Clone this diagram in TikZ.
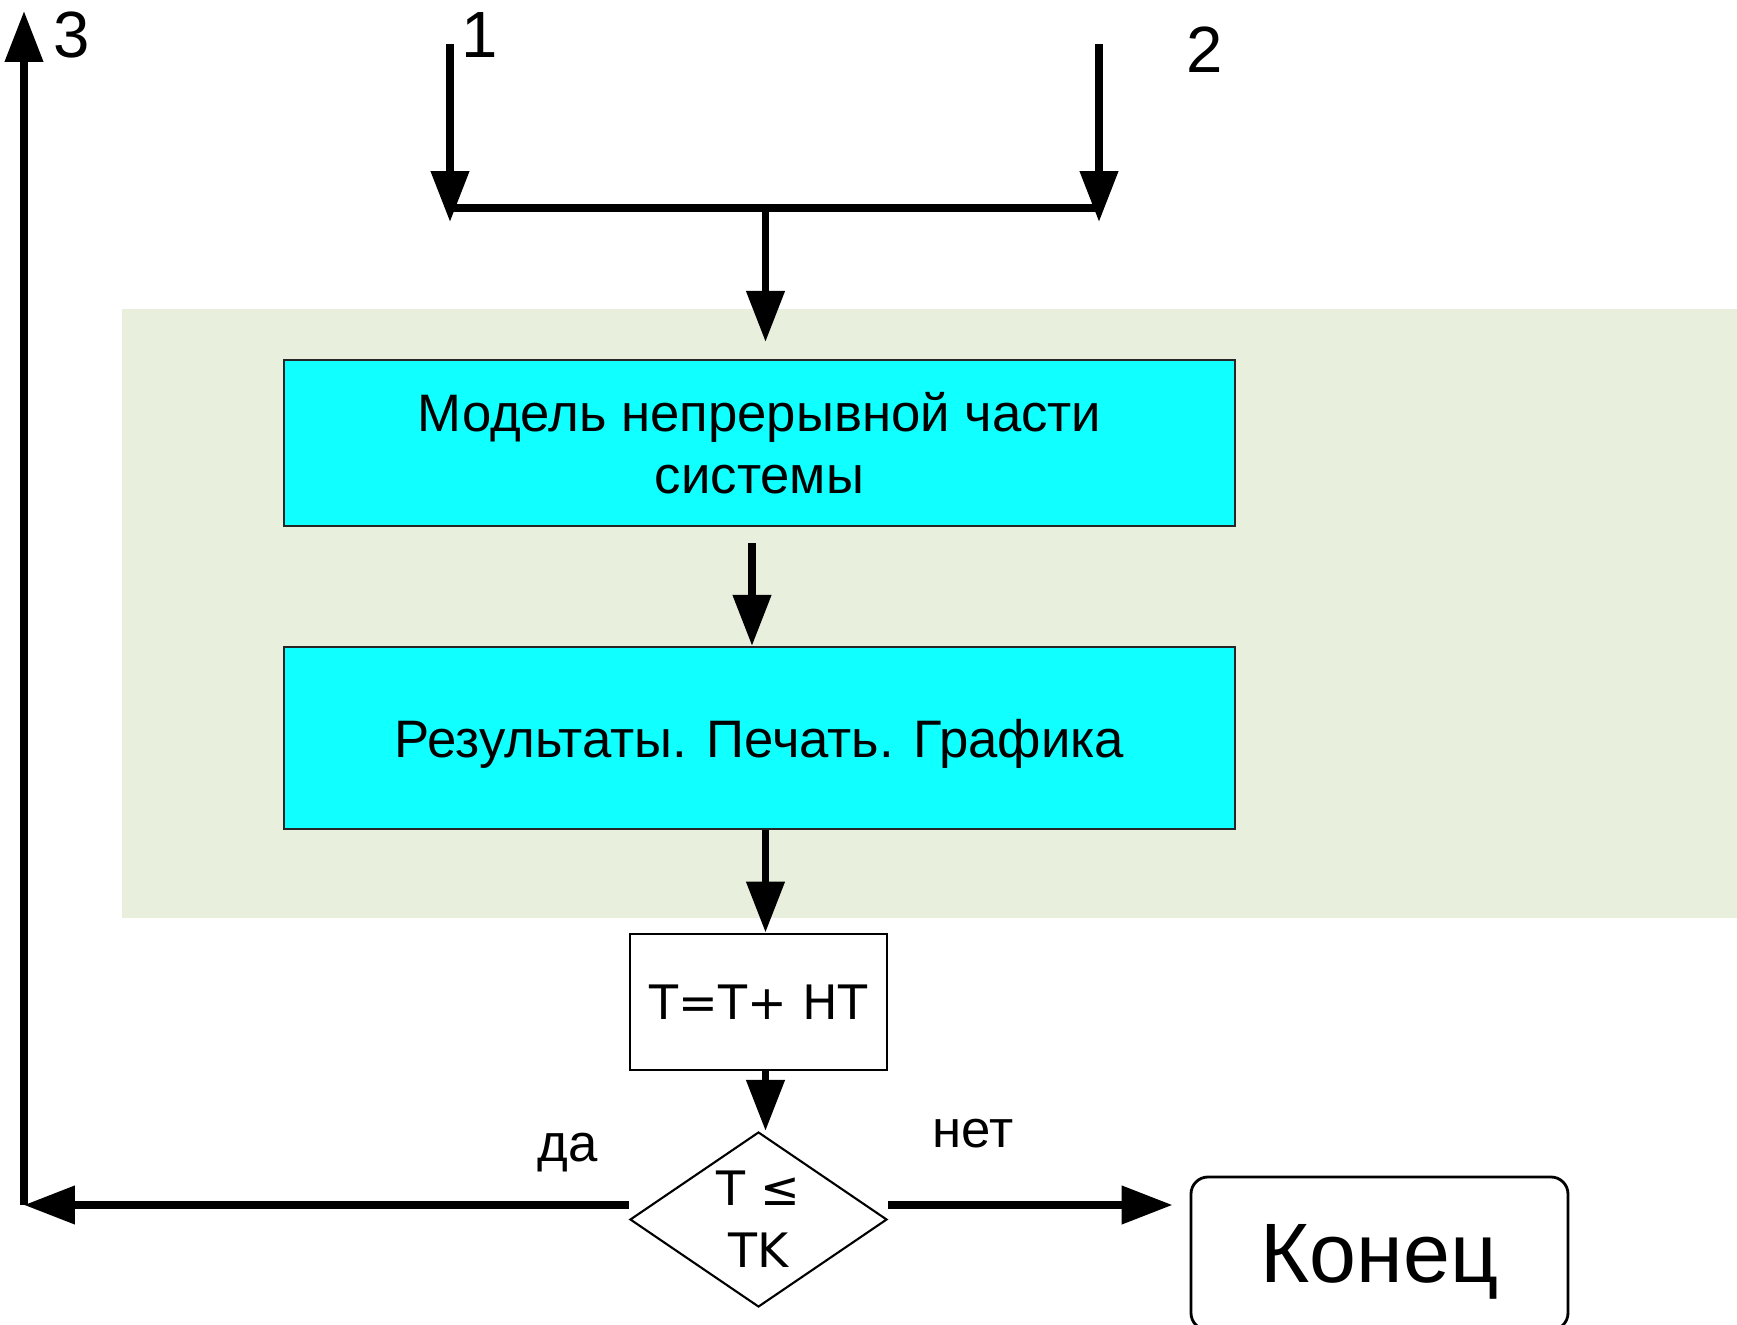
\documentclass[tikz,border=0pt]{standalone}
\usepackage{fontspec}
\setmainfont{Liberation Sans}
\newfontfamily\djv{DejaVu Sans}
\usetikzlibrary{arrows.meta,shapes.geometric}
\definecolor{boxcyan}{RGB}{16,255,255}
\definecolor{bandgreen}{RGB}{232,240,221}

\begin{document}
\begin{tikzpicture}[line join=miter, >={Triangle[length=14.5pt,width=10.5pt]},
  flow/.style={->, line width=2.2pt},
  bar/.style={line width=2.2pt},
  block/.style={draw=black!85, line width=0.6pt, fill=boxcyan, minimum width=9.51cm,
    align=center, font=\fontsize{15}{17.6}\selectfont},
  stepbox/.style={draw, line width=0.8pt, fill=white, minimum width=2.57cm, minimum height=1.36cm,
    font=\djv\fontsize{13.5}{16}\selectfont},
  decision/.style={draw, diamond, line width=0.6pt, fill=white, inner sep=0pt, aspect=1.47,
    minimum width=2.57cm, minimum height=1.75cm},
  endbox/.style={draw, rounded corners=0.17cm, line width=0.8pt, minimum width=3.77cm,
    minimum height=1.53cm, text depth=0pt, font=\fontsize{24}{28}\selectfont},
  numlabel/.style={font=\fontsize{18.6}{22}\selectfont},
  answer/.style={font=\fontsize{15}{18}\selectfont}]
  \useasboundingbox (0,0) rectangle (17.37,13.24);

  % Background band
  \fill[bandgreen] (1.22,4.06) rectangle (17.37,10.15);

  % Junction points
  \coordinate (s1) at (4.50,12.80);
  \coordinate (s2) at (10.99,12.80);
  \coordinate (j1) at (4.50,11.16);
  \coordinate (j2) at (10.99,11.16);
  \coordinate (jm) at (7.655,11.16);
  \coordinate (corner) at (0.24,1.19);
  \coordinate (top3) at (0.24,13.13);

  % Blocks
  \node[block, minimum height=1.66cm] (model) at (7.595,8.81) {Модель непрерывной части\\системы};
  \node[block, minimum height=1.82cm, text depth=0pt] (res) at (7.595,5.86) {Результаты. Печать. Графика};
  \node[stepbox] (inc) at (7.585,3.22) {T=T+ HT};
  \node[decision, label={[font=\djv\fontsize{13.5}{17.6}\selectfont, align=center, name=cond]center:T ≤\\TK}] (dec) at (7.585,1.045) {};
  \node[endbox] (stop) at (13.795,0.705) {Конец};

  % Labels
  \node[numlabel] (n1) at (4.80,12.89) {1};
  \node[numlabel] (n2) at (12.05,12.74) {2};
  \node[numlabel] (n3) at (0.72,12.89) {3};
  \node[answer] (yes) at (5.68,1.71) {да};
  \node[answer] (no) at (9.73,1.90) {нет};

  % Inputs 1 and 2
  \draw[flow, shorten >=-0.14cm] (s1) -- (j1);
  \draw[flow, shorten >=-0.14cm] (s2) -- (j2);
  \draw[bar] (j1) -- (j2);
  \draw[flow] (jm) -- ([yshift=0.17cm]model.north -| jm);

  % Main chain
  \draw[flow, shorten <=0.16cm] ([xshift=-0.075cm]model.south) -- ([xshift=-0.075cm]res.north);
  \draw[flow] (res.south -| jm) -- (inc.north -| jm);
  \draw[flow] (inc.south -| jm) -- (dec.north -| jm);

  % Branches
  \draw[flow] (dec.west |- corner) -- (corner);
  \draw[flow] (corner) -- (top3);
  \draw[flow, shorten >=0.17cm] (dec.east |- corner) -- (corner -| stop.west);
\end{tikzpicture}
\end{document}
